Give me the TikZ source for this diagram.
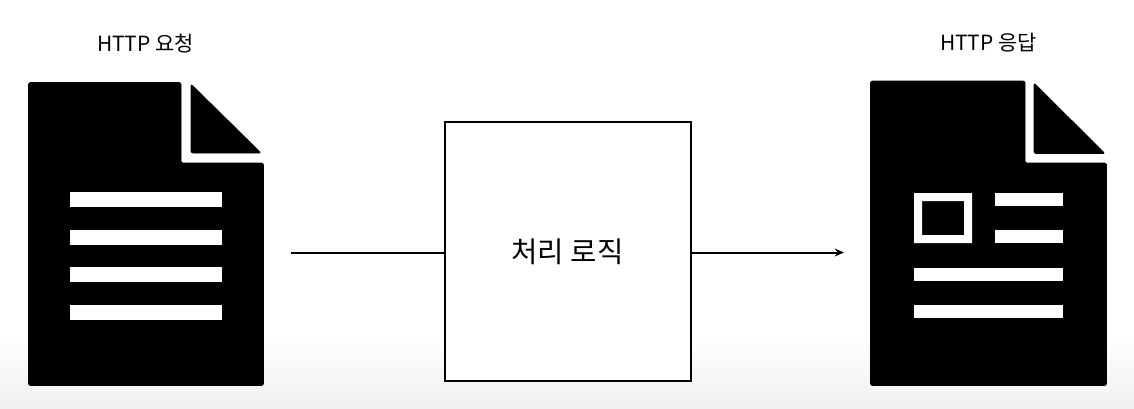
\documentclass[tikz,border=0pt]{standalone}
\usepackage{fontspec}
\setmainfont{Noto Sans CJK KR}
\usetikzlibrary{arrows.meta}
\definecolor{floorgray}{HTML}{F0F0F0}
\tikzset{
	pagefill/.style={fill=black,draw=black,line width=0.5pt,line join=round,rounded corners=1.5pt},
	barfill/.style={fill=white,draw=none},
	smalltext/.style={font=\fontsize{15.7}{18}\selectfont,inner sep=0pt},
	logicbox/.style={draw=black,fill=white,line width=1.5pt,minimum width=184.5pt,minimum height=194.25pt,inner sep=0pt,font=\fontsize{21.5}{26}\selectfont},
	flow/.style={draw=black,line width=1.5pt}
}
\begin{document}
\begin{tikzpicture}[x=0.75pt,y=-0.75pt]
	\useasboundingbox (0,0) rectangle (1134,408);
	\shade[top color=white,bottom color=floorgray] (0,335) rectangle (1134,408);
	% labels
	\node[smalltext] (reqlabel) at (145.5,43.5) {HTTP 요청};
	\node[smalltext] (reslabel) at (988.5,43) {HTTP 응답};
	% left page
	\path[pagefill] (28.5,82.5) -- (181,82.5) -- (181,163) -- (263.5,163) -- (263.5,385.5) -- (28.5,385.5) -- cycle;
	\path[pagefill] (191,84) -- (191,153) -- (261,153) -- cycle;
	\foreach \y in {192,230,267,305}
	\path[barfill] (70,\y) rectangle (222,\y+15);
	% right page
	\path[pagefill] (870.5,81) -- (1025,81) -- (1025,163) -- (1106.5,163) -- (1106.5,385.5) -- (870.5,385.5) -- cycle;
	\path[pagefill] (1034,83) -- (1034,153.5) -- (1105,153.5) -- cycle;
	\path[barfill,even odd rule] (914,193) rectangle (972,243) (922,201) rectangle (964,235);
	\foreach \y in {193,230}
	\path[barfill] (995,\y) rectangle (1063,\y+13);
	\foreach \y in {268,305}
	\path[barfill] (914,\y) rectangle (1063,\y+13);
	% middle
	\node[logicbox] (logic) at (567.5,251.5) {처리 로직};
	\coordinate (instart) at (291,252.5);
	\coordinate (outend) at (844,252.5);
	\draw[flow] (instart) -- (instart -| logic.west);
	\draw[flow,-{Stealth[length=7pt,width=6pt]}] (outend -| logic.east) -- (outend);
\end{tikzpicture}
\end{document}
